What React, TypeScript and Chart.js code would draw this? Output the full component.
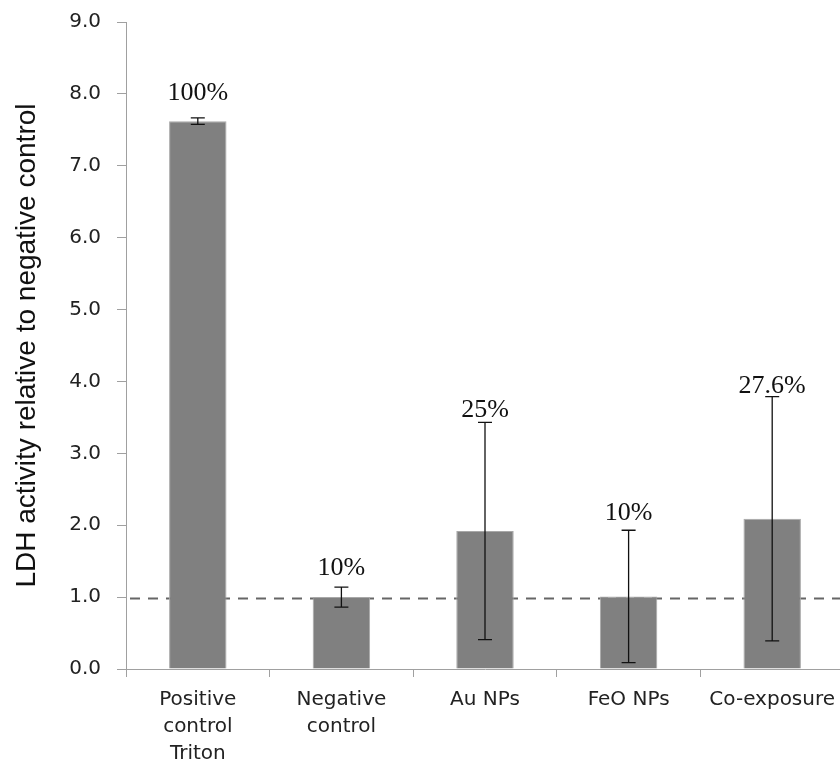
import React, { useEffect, useRef } from "react";
import { Chart, registerables } from "chart.js";

Chart.register(...registerables);

const categories: string[][] = [
  ["Positive", "control", "Triton"],
  ["Negative", "control"],
  ["Au NPs"],
  ["FeO NPs"],
  ["Co-exposure"],
];
const means: number[] = [7.62, 1.0, 1.92, 1.01, 2.09];
const errors: number[] = [0.045, 0.14, 1.51, 0.92, 1.7];
const percentLabels: string[] = ["100%", "10%", "25%", "10%", "27.6%"];
const labelAnchors: number[] = [7.91, 1.31, 3.51, 2.07, 3.84];
const referenceValue = 0.98;
const yTicks: number[] = [0, 1, 2, 3, 4, 5, 6, 7, 8, 9];

const overlayPlugin = {
  id: "overlay",
  beforeDatasetsDraw(chart: any) {
    const { ctx, chartArea, scales } = chart;
    const y = scales.y.getPixelForValue(referenceValue);
    ctx.save();
    ctx.strokeStyle = "#666666";
    ctx.lineWidth = 2;
    ctx.setLineDash([10, 8]);
    ctx.beginPath();
    ctx.moveTo(chartArea.left + 4, y);
    ctx.lineTo(chartArea.right, y);
    ctx.stroke();
    ctx.restore();
  },
  afterDatasetsDraw(chart: any) {
    const { ctx, scales } = chart;
    const meta = chart.getDatasetMeta(0);
    ctx.save();
    meta.data.forEach((bar: any, i: number) => {
      const x = bar.x;
      const top = scales.y.getPixelForValue(means[i] + errors[i]);
      const bot = scales.y.getPixelForValue(means[i] - errors[i]);
      ctx.strokeStyle = "#111111";
      ctx.lineWidth = 1.3;
      ctx.beginPath();
      ctx.moveTo(x, top);
      ctx.lineTo(x, bot);
      ctx.moveTo(x - 7, top);
      ctx.lineTo(x + 7, top);
      ctx.moveTo(x - 7, bot);
      ctx.lineTo(x + 7, bot);
      ctx.stroke();
      ctx.fillStyle = "#111111";
      ctx.font = '26px "Liberation Serif"';
      ctx.textAlign = "center";
      ctx.textBaseline = "alphabetic";
      ctx.fillText(percentLabels[i], x, scales.y.getPixelForValue(labelAnchors[i]));
    });
    ctx.restore();
  },
};

export default function App() {
  const ref = useRef<HTMLCanvasElement | null>(null);
  useEffect(() => {
    if (!ref.current) return;
    const chart = new Chart(ref.current, {
      type: "bar",
      data: {
        labels: categories,
        datasets: [
          {
            data: means,
            backgroundColor: "#808080",
            borderColor: "#a8a8a8",
            borderWidth: 1,
            barPercentage: 0.4,
            categoryPercentage: 1,
          },
        ],
      },
      options: {
        animation: false,
        responsive: true,
        maintainAspectRatio: false,
        layout: { padding: { left: 0, right: 2, top: 22, bottom: 0 } },
        plugins: {
          legend: { display: false },
          tooltip: { enabled: false },
        },
        scales: {
          x: {
            type: "category",
            grid: {
              offset: true,
              drawOnChartArea: false,
              tickLength: 8,
              color: "#a0a0a0",
            },
            border: { color: "#a0a0a0", width: 1 },
            ticks: {
              color: "#222222",
              font: { family: "DejaVu Sans", size: 20, lineHeight: 1.35 },
              padding: 9,
              maxRotation: 0,
              autoSkip: false,
            },
            afterFit(scale: any) {
              scale.height = 98;
              scale.paddingLeft = 0;
              scale.paddingRight = 0;
            },
          },
          y: {
            min: 0,
            max: 9,
            afterBuildTicks(scale: any) {
              scale.ticks = yTicks.map((v) => ({ value: v }));
            },
            grid: {
              drawOnChartArea: false,
              tickLength: 9,
              color: "#a0a0a0",
            },
            border: { color: "#a0a0a0", width: 1 },
            ticks: {
              color: "#222222",
              font: { family: "DejaVu Sans", size: 20 },
              padding: 16,
              callback: (v: any) => Number(v).toFixed(1),
            },
            title: {
              display: true,
              text: "LDH activity relative to negative control",
              color: "#111111",
              font: { family: "Liberation Sans", size: 28 },
              padding: { top: 10, bottom: 0 },
            },
            afterFit(scale: any) {
              scale.width = 126;
              scale.paddingTop = 0;
              scale.paddingBottom = 0;
            },
          },
        },
      },
      plugins: [overlayPlugin],
    });
    return () => chart.destroy();
  }, []);
  return (
    <div
      style={{
        position: "absolute",
        left: 0,
        top: 0,
        width: 840,
        height: 767,
        overflow: "hidden",
        background: "#ffffff",
      }}
    >
      <div style={{ position: "relative", width: 846, height: 767 }}>
        <canvas ref={ref} />
      </div>
    </div>
  );
}
